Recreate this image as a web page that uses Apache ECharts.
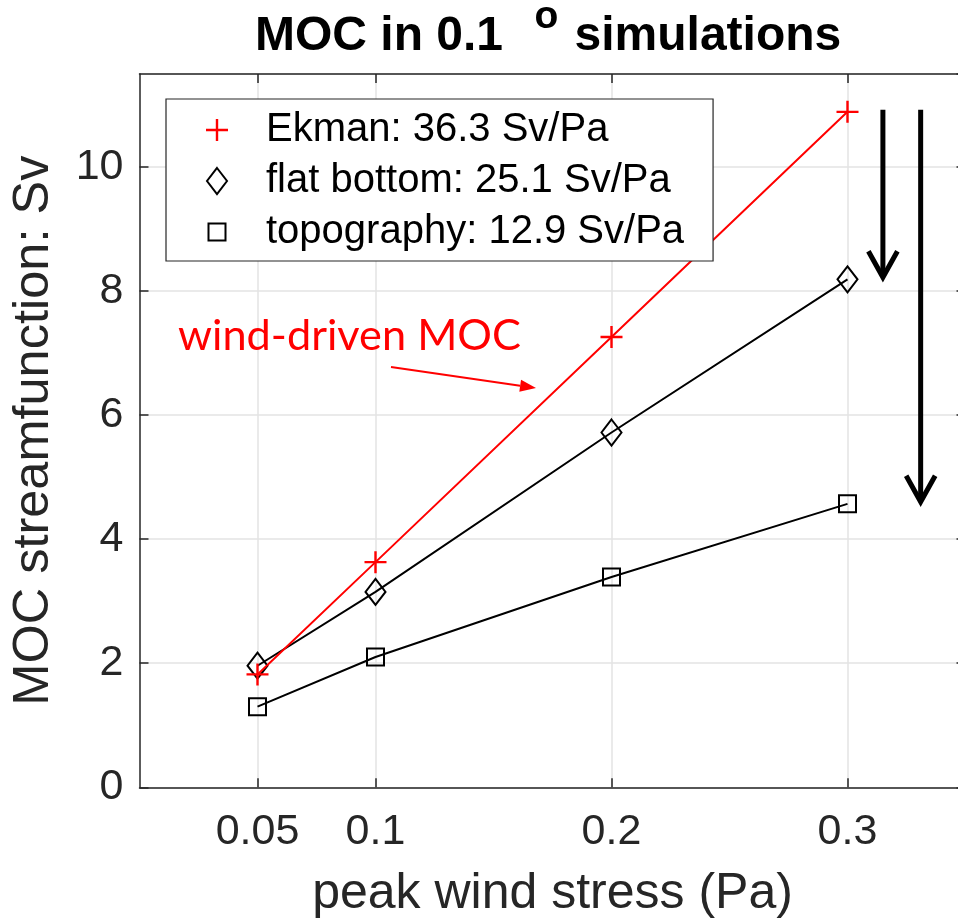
<!DOCTYPE html>
<html>
<head>
<meta charset="utf-8">
<script src="https://cdn.jsdelivr.net/npm/echarts@6/dist/echarts.min.js"></script>
<style>html,body{margin:0;padding:0;background:#fff}#main{width:958px;height:919px}</style>
</head>
<body>
<div id="main"></div>
<script>
// values
var stress = [0.05, 0.1, 0.2, 0.3];
var ekman = [1.82, 3.63, 7.26, 10.89];
var flatBottom = [1.96, 3.15, 5.72, 8.19];
var topography = [1.30, 2.10, 3.39, 4.57];
var xTicks = [0.05, 0.1, 0.2, 0.3];
var seriesNames = ['Ekman: 36.3 Sv/Pa', 'flat bottom: 25.1 Sv/Pa', 'topography: 12.9 Sv/Pa'];
var arrowX = [0.315, 0.331];

var FONT = 'Liberation Sans';
var AX = '#262626';

// symbols padded into a 26x26 box so legend + plot share the same size
var plusIcon = 'path://M0,0M26,26M11.8,2H14.2V11.8H24V14.2H14.2V24H11.8V14.2H2V11.8H11.8Z';
var diamondIcon = 'path://M0,0M26,26M13,0L23,13L13,26L3,13Z';
var squareIcon = 'path://M0,0M26,26M4.5,4.5H21.5V21.5H4.5Z';

function pairs(ys) {
  return stress.map(function (x, i) { return [x, ys[i]]; });
}

var chart = echarts.init(document.getElementById('main'));

var xBase = {
  type: 'value', min: 0, max: 0.35,
  axisLine: { show: true, onZero: false, lineStyle: { color: AX, width: 1.5 } },
  axisTick: { show: true, inside: true, length: 9, customValues: xTicks, lineStyle: { color: AX, width: 1.5 } },
  minorTick: { show: false }
};
var yBase = {
  type: 'value', min: 0, max: 11.5, interval: 2,
  axisLine: { show: true, onZero: false, lineStyle: { color: AX, width: 1.5 } },
  axisTick: { show: true, inside: true, length: 9, lineStyle: { color: AX, width: 1.5 } },
  minorTick: { show: false }
};

var option = {
  animation: false,
  backgroundColor: '#fff',
  title: {
    text: '{a|MOC in 0.1 }{s|o}{a| simulations}',
    left: 255, top: -2, padding: 0,
    textStyle: {
      rich: {
        a: { fontFamily: FONT, fontWeight: 'bold', fontSize: 48, color: '#000', lineHeight: 78 },
        s: { fontFamily: FONT, fontWeight: 'bold', fontSize: 39, color: '#000', verticalAlign: 'top', lineHeight: 78, padding: [0, 3, 0, 18] }
      }
    }
  },
  grid: { left: 139.5, top: 74, right: -7.5, bottom: 131.7, containLabel: false, outerBoundsMode: 'none' },
  legend: {
    orient: 'vertical', left: 166, top: 99,
    padding: [11, 29, 9, 37],
    itemWidth: 88, itemHeight: 26, itemGap: 11,
    backgroundColor: '#fff', borderColor: AX, borderWidth: 1.2, borderRadius: 0,
    selectedMode: false,
    textStyle: { fontFamily: FONT, fontSize: 40, color: '#000', lineHeight: 40 },
    data: [
      { name: seriesNames[0], icon: plusIcon },
      { name: seriesNames[1], icon: diamondIcon },
      { name: seriesNames[2], icon: squareIcon }
    ]
  },
  xAxis: [
    Object.assign({}, xBase, {
      position: 'bottom',
      axisLabel: { customValues: xTicks, color: AX, fontFamily: FONT, fontSize: 43, margin: 23,
        formatter: function (v) { return String(v); } },
      splitLine: { show: true, lineStyle: { color: '#e3e3e3', width: 1.5 } },
      name: 'peak wind stress (Pa)', nameLocation: 'middle', nameGap: 82,
      nameTextStyle: { fontFamily: FONT, fontSize: 50, color: AX }
    }),
    Object.assign({}, xBase, {
      position: 'top',
      axisLabel: { show: false },
      splitLine: { show: false }
    })
  ],
  yAxis: [
    Object.assign({}, yBase, {
      position: 'left',
      axisLabel: { color: AX, fontFamily: FONT, fontSize: 43, margin: 16, showMaxLabel: false },
      splitLine: { show: true, lineStyle: { color: '#e3e3e3', width: 1.5 } },
      name: 'MOC streamfunction: Sv', nameLocation: 'middle', nameGap: 80, nameRotate: 90,
      nameTextStyle: { fontFamily: FONT, fontSize: 50.5, color: AX }
    }),
    Object.assign({}, yBase, {
      position: 'right',
      axisLabel: { show: false },
      splitLine: { show: false }
    })
  ],
  series: [
    {
      name: seriesNames[0], type: 'line', data: pairs(ekman),
      symbol: plusIcon, symbolSize: 26,
      itemStyle: { color: '#ff0000', borderWidth: 0 },
      lineStyle: { color: '#ff0000', width: 2 },
      emphasis: { disabled: true }, z: 3
    },
    {
      name: seriesNames[1], type: 'line', data: pairs(flatBottom),
      symbol: diamondIcon, symbolSize: 26,
      itemStyle: { color: 'rgba(0,0,0,0)', borderColor: '#000', borderWidth: 2 },
      lineStyle: { color: '#000', width: 2 },
      emphasis: { disabled: true }, z: 2
    },
    {
      name: seriesNames[2], type: 'line', data: pairs(topography),
      symbol: squareIcon, symbolSize: 26,
      itemStyle: { color: 'rgba(0,0,0,0)', borderColor: '#000', borderWidth: 2 },
      lineStyle: { color: '#000', width: 2 },
      emphasis: { disabled: true }, z: 2
    }
  ]
};
chart.setOption(option);

// annotations: arrows from the Ekman value down to the other two at 0.3 Pa
function px(x, y) {
  return chart.convertToPixel({ xAxisIndex: 0, yAxisIndex: 0 }, [x, y]);
}
function downArrow(x, yFrom, yTo) {
  var a = px(x, yFrom), b = px(x, yTo);
  return [
    { type: 'line', shape: { x1: a[0], y1: a[1] - 2, x2: b[0], y2: b[1] - 3 },
      style: { stroke: '#000', lineWidth: 5 }, z: 10 },
    { type: 'polyline', shape: { points: [[b[0] - 14.5, b[1] - 28], [b[0], b[1] - 2], [b[0] + 14.5, b[1] - 28]] },
      style: { stroke: '#000', lineWidth: 5, fill: null, lineJoin: 'miter' }, z: 10 }
  ];
}
function redArrow(x1, y1, x2, y2) {
  var ang = Math.atan2(y2 - y1, x2 - x1), len = 16, hw = 6;
  var bx = x2 - len * Math.cos(ang), by = y2 - len * Math.sin(ang);
  var nx = -Math.sin(ang) * hw, ny = Math.cos(ang) * hw;
  return [
    { type: 'line', shape: { x1: x1, y1: y1, x2: bx, y2: by }, style: { stroke: '#ff0000', lineWidth: 2 }, z: 10 },
    { type: 'polygon', shape: { points: [[x2, y2], [bx + nx, by + ny], [bx - nx, by - ny]] }, style: { fill: '#ff0000' }, z: 10 }
  ];
}

var graphics = []
  .concat(downArrow(arrowX[0], ekman[3], flatBottom[3]))
  .concat(downArrow(arrowX[1], ekman[3], topography[3]))
  .concat(redArrow(391, 367, 536, 388))
  .concat([{
    type: 'text', z: 10,
    style: { text: 'wind-driven MOC', x: 178, y: 336, fill: '#ff0000', fontFamily: 'Lato', fontSize: 43.3, verticalAlign: 'middle' }
  }]);
chart.setOption({ graphic: graphics });
</script>
</body>
</html>
